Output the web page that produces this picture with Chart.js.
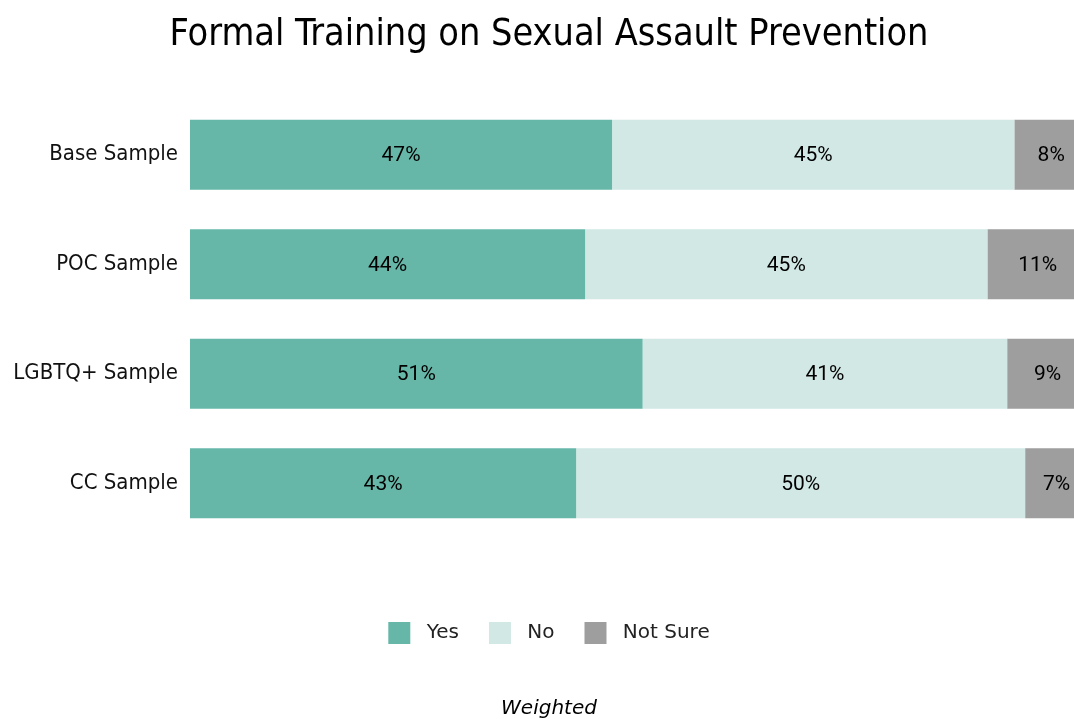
<!DOCTYPE html>
<html>
<head>
<meta charset="utf-8">
<script src="https://cdn.jsdelivr.net/npm/chart.js@4/dist/chart.umd.min.js"></script>
<style>
	html, body { margin: 0; padding: 0; background: #fff; overflow: hidden; }
	#wrap { width: 1074px; height: 719px; overflow: hidden; }
</style>
</head>
<body>
<div id="wrap">
	<canvas id="BarChart" width="1098" height="730"></canvas>
</div>
<script>
const samples = ["Base Sample", "POC Sample", "LGBTQ+ Sample", "CC Sample"]
const yesValues = [47, 44, 50.4, 43]
const noValues = [44.8, 44.8, 40.6, 50]
const notSureValues = [8.2, 11.2, 9, 7]
const yesLabels = ["47%", "44%", "51%", "43%"]
const noLabels = ["45%", "45%", "41%", "50%"]
const notSureLabels = ["8%", "11%", "9%", "7%"]

// draws the percent text in the middle of each bar piece
const barText = {
	id: "barText",
	afterDatasetsDraw(chart) {
		const ctx = chart.ctx
		ctx.save()
		ctx.font = "21px Roboto"
		ctx.fillStyle = "#000"
		ctx.textAlign = "center"
		ctx.textBaseline = "middle"
		chart.data.datasets.forEach((ds, i) => {
			chart.getDatasetMeta(i).data.forEach((bar, j) => {
				const p = bar.getCenterPoint()
				ctx.fillText(ds.texts[j], p.x, p.y + 1)
			})
		})
		ctx.restore()
	},
}

const ctx = document.getElementById("BarChart").getContext("2d")

new Chart(ctx, {
	type: "bar",
	plugins: [barText],
	data: {
		labels: samples,
		datasets: [
			{ label: "Yes", data: yesValues, texts: yesLabels, backgroundColor: "#66B7A8" },
			{ label: "No", data: noValues, texts: noLabels, backgroundColor: "#D1E8E4" },
			{ label: "Not Sure", data: notSureValues, texts: notSureLabels, backgroundColor: "#9E9E9E" },
		],
	},
	options: {
		indexAxis: "y",
		responsive: false,
		animation: false,
		layout: { padding: { left: 10, right: 10, top: 0, bottom: 0 } },
		datasets: {
			bar: { categoryPercentage: 1, barPercentage: 0.64, borderWidth: 0 },
		},
		scales: {
			x: { stacked: true, display: false, min: 0, max: 100 },
			y: {
				stacked: true,
				grid: { display: false, drawTicks: false },
				border: { display: false },
				ticks: { font: { family: "DejaVu Sans Condensed", size: 22 }, color: "#111", padding: 12 },
				afterFit: (scale) => { scale.width = 180 },
			},
		},
		plugins: {
			tooltip: { enabled: false },
			title: {
				display: true,
				text: "Formal Training on Sexual Assault Prevention",
				font: { family: "DejaVu Sans Condensed", size: 37.5, weight: "normal" },
				color: "#000",
				padding: { top: 13, bottom: 42 },
			},
			legend: {
				position: "bottom",
				title: { display: true, text: "", font: { size: 10 }, padding: { top: 42, bottom: 0 } },
				labels: {
					font: { family: "DejaVu Sans", size: 20 },
					color: "#222",
					boxWidth: 22,
					boxHeight: 22,
					padding: 30,
					generateLabels: (chart) =>
						Chart.defaults.plugins.legend.labels.generateLabels(chart).map((l) => ({ ...l, text: " " + l.text })),
				},
			},
			subtitle: {
				display: true,
				position: "bottom",
				text: "Weighted",
				font: { family: "DejaVu Sans", size: 20, style: "italic" },
				color: "#000",
				padding: { top: 43, bottom: 9 },
			},
		},
	},
})
</script>
</body>
</html>
